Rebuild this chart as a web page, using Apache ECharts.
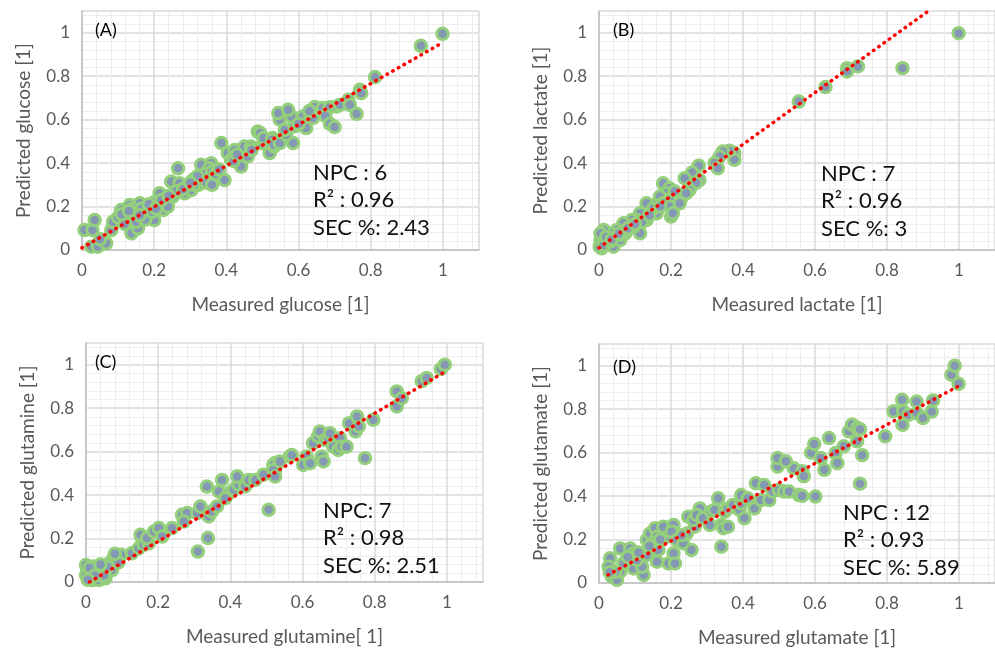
<!DOCTYPE html>
<html>
<head>
<meta charset="utf-8">
<script src="https://cdn.jsdelivr.net/npm/echarts@6/dist/echarts.min.js"></script>
<style>
  html, body { margin: 0; padding: 0; background: #fff; }
  #chart { width: 995px; height: 651px; }
</style>
</head>
<body>
<div id="chart"></div>
<script>
// (A) glucose: [measured, predicted]
let glucosePts = [
  [0.007, 0.092], [0.029, 0.092], [0.035, 0.138], [0.026, 0.015], [0.044, 0.015], [0.067, 0.031],
  [0.05, 0.05], [0.081, 0.092], [0.086, 0.13], [0.1, 0.15], [0.108, 0.184], [0.132, 0.207],
  [0.127, 0.15], [0.118, 0.12], [0.137, 0.077], [0.155, 0.1], [0.16, 0.215], [0.147, 0.169],
  [0.17, 0.169], [0.188, 0.184], [0.2, 0.138], [0.215, 0.261], [0.211, 0.215], [0.225, 0.184],
  [0.234, 0.23], [0.238, 0.2], [0.252, 0.246], [0.266, 0.376], [0.247, 0.315], [0.27, 0.307],
  [0.285, 0.261], [0.29, 0.292], [0.307, 0.322], [0.303, 0.276], [0.321, 0.299], [0.33, 0.392],
  [0.335, 0.33], [0.353, 0.338], [0.358, 0.399], [0.353, 0.376], [0.367, 0.322], [0.395, 0.322],
  [0.386, 0.492], [0.404, 0.446], [0.423, 0.46], [0.413, 0.415], [0.432, 0.43], [0.441, 0.384],
  [0.45, 0.476], [0.459, 0.43], [0.468, 0.476], [0.487, 0.545], [0.502, 0.49], [0.52, 0.446],
  [0.515, 0.499], [0.528, 0.515], [0.532, 0.476], [0.494, 0.538], [0.503, 0.515], [0.526, 0.507],
  [0.531, 0.484], [0.548, 0.492], [0.585, 0.492], [0.566, 0.53], [0.562, 0.553], [0.589, 0.569],
  [0.617, 0.569], [0.621, 0.561], [0.603, 0.6], [0.612, 0.615], [0.58, 0.615], [0.548, 0.6],
  [0.544, 0.63], [0.571, 0.645], [0.632, 0.622], [0.64, 0.607], [0.645, 0.658], [0.667, 0.653],
  [0.686, 0.657], [0.705, 0.66], [0.715, 0.668], [0.674, 0.617], [0.687, 0.581], [0.7, 0.566],
  [0.738, 0.691], [0.742, 0.668], [0.761, 0.627], [0.77, 0.737], [0.774, 0.722], [0.812, 0.796],
  [0.939, 0.94], [0.999, 0.995], [0.12, 0.17], [0.14, 0.19], [0.165, 0.19], [0.18, 0.16],
  [0.19, 0.2], [0.2, 0.22], [0.22, 0.23], [0.26, 0.27], [0.28, 0.28], [0.31, 0.3],
  [0.34, 0.35], [0.36, 0.36], [0.15, 0.13], [0.175, 0.14], [0.11, 0.165], [0.195, 0.175],
  [0.37, 0.35], [0.32, 0.34], [0.42, 0.41], [0.47, 0.46], [0.6, 0.58], [0.63, 0.64],
  [0.13, 0.18], [0.16, 0.16], [0.185, 0.21], [0.205, 0.19], [0.24, 0.25], [0.3, 0.31],
  [0.345, 0.31], [0.38, 0.37], [0.43, 0.44], [0.36, 0.3]
];
// (B) lactate
let lactatePts = [
  [0.999, 0.998], [0.843, 0.837], [0.719, 0.845], [0.689, 0.837], [0.689, 0.822], [0.629, 0.75],
  [0.555, 0.683], [0.376, 0.446], [0.376, 0.415], [0.362, 0.457], [0.344, 0.453], [0.335, 0.43],
  [0.321, 0.4], [0.33, 0.376], [0.277, 0.388], [0.259, 0.357], [0.238, 0.33], [0.256, 0.292],
  [0.279, 0.322], [0.27, 0.31], [0.251, 0.276], [0.228, 0.238], [0.2, 0.154], [0.178, 0.307],
  [0.196, 0.284], [0.187, 0.261], [0.205, 0.246], [0.169, 0.246], [0.178, 0.215], [0.196, 0.2],
  [0.155, 0.207], [0.141, 0.184], [0.132, 0.215], [0.123, 0.154], [0.114, 0.169], [0.105, 0.138],
  [0.091, 0.138], [0.114, 0.077], [0.086, 0.107], [0.068, 0.123], [0.073, 0.077], [0.05, 0.092],
  [0.045, 0.061], [0.031, 0.077], [0.013, 0.092], [0.004, 0.046], [0.022, 0.031], [0.007, 0.008],
  [0.04, 0.015], [0.002, 0.015], [0.059, 0.046], [0.013, 0.023], [0.031, 0.038], [0.077, 0.092],
  [0.095, 0.107], [0.132, 0.138], [0.16, 0.169], [0.224, 0.215], [0.242, 0.261], [0.205, 0.169],
  [0.004, 0.077], [0.15, 0.19], [0.17, 0.2], [0.21, 0.27], [0.12, 0.13], [0.06, 0.07],
  [0.02, 0.06], [0.035, 0.05], [0.055, 0.075], [0.08, 0.1], [0.1, 0.12], [0.14, 0.16]
];
// (C) glutamine
let glutaminePts = [
  [0.021, 0.071], [0.003, 0.055], [0.0, 0.03], [0.017, 0.009], [0.036, 0.009], [0.045, 0.047],
  [0.064, 0.086], [0.078, 0.117], [0.083, 0.101], [0.097, 0.125], [0.072, 0.055], [0.054, 0.017],
  [0.036, 0.055], [0.0, 0.078], [0.012, 0.017], [0.127, 0.132], [0.146, 0.155], [0.156, 0.194],
  [0.16, 0.171], [0.174, 0.178], [0.151, 0.217], [0.169, 0.202], [0.188, 0.232], [0.202, 0.248],
  [0.211, 0.209], [0.238, 0.248], [0.266, 0.309], [0.28, 0.317], [0.271, 0.278], [0.308, 0.317],
  [0.317, 0.348], [0.34, 0.302], [0.349, 0.325], [0.363, 0.348], [0.31, 0.14], [0.338, 0.202],
  [0.335, 0.439], [0.368, 0.417], [0.377, 0.47], [0.396, 0.409], [0.386, 0.386], [0.409, 0.425],
  [0.423, 0.448], [0.419, 0.486], [0.441, 0.44], [0.451, 0.47], [0.469, 0.47], [0.492, 0.494],
  [0.506, 0.332], [0.524, 0.517], [0.524, 0.548], [0.519, 0.539], [0.519, 0.516], [0.524, 0.485],
  [0.537, 0.555], [0.565, 0.578], [0.57, 0.585], [0.611, 0.578], [0.602, 0.539], [0.621, 0.547],
  [0.653, 0.578], [0.658, 0.555], [0.629, 0.639], [0.643, 0.67], [0.648, 0.693], [0.662, 0.654],
  [0.671, 0.662], [0.676, 0.685], [0.704, 0.662], [0.685, 0.623], [0.699, 0.608], [0.708, 0.623],
  [0.722, 0.623], [0.729, 0.731], [0.747, 0.693], [0.756, 0.716], [0.751, 0.762], [0.773, 0.57],
  [0.796, 0.747], [0.861, 0.877], [0.861, 0.808], [0.875, 0.846], [0.93, 0.924], [0.944, 0.939],
  [0.983, 0.98], [0.994, 1.0], [0.02, 0.04], [0.03, 0.06], [0.05, 0.03], [0.09, 0.09],
  [0.01, 0.065], [0.025, 0.03], [0.06, 0.07], [0.08, 0.13], [0.04, 0.08], [0.005, 0.01]
];
// (D) glutamate
let glutamatePts = [
  [0.031, 0.114], [0.027, 0.075], [0.036, 0.029], [0.05, 0.014], [0.059, 0.052], [0.045, 0.052],
  [0.068, 0.09], [0.059, 0.159], [0.087, 0.159], [0.096, 0.136], [0.096, 0.067], [0.124, 0.037],
  [0.12, 0.075], [0.105, 0.106], [0.133, 0.129], [0.133, 0.198], [0.142, 0.228], [0.156, 0.252],
  [0.161, 0.213], [0.151, 0.183], [0.165, 0.152], [0.161, 0.098], [0.188, 0.213], [0.179, 0.259],
  [0.193, 0.09], [0.207, 0.136], [0.211, 0.09], [0.207, 0.267], [0.202, 0.236], [0.216, 0.198],
  [0.234, 0.183], [0.244, 0.228], [0.248, 0.305], [0.257, 0.152], [0.266, 0.259], [0.262, 0.29],
  [0.28, 0.343], [0.271, 0.313], [0.289, 0.298], [0.308, 0.267], [0.312, 0.328], [0.321, 0.336],
  [0.331, 0.39], [0.34, 0.167], [0.34, 0.267], [0.345, 0.252], [0.358, 0.259], [0.349, 0.328],
  [0.358, 0.343], [0.372, 0.359], [0.39, 0.336], [0.395, 0.367], [0.404, 0.298], [0.395, 0.405],
  [0.413, 0.39], [0.432, 0.343], [0.436, 0.459], [0.45, 0.382], [0.459, 0.451], [0.473, 0.382],
  [0.482, 0.421], [0.496, 0.536], [0.496, 0.575], [0.5, 0.428], [0.514, 0.421], [0.528, 0.421],
  [0.541, 0.528], [0.555, 0.405], [0.564, 0.401], [0.601, 0.398], [0.519, 0.56], [0.565, 0.514],
  [0.569, 0.491], [0.589, 0.6], [0.598, 0.64], [0.616, 0.575], [0.626, 0.521], [0.639, 0.667],
  [0.657, 0.598], [0.662, 0.552], [0.68, 0.629], [0.694, 0.698], [0.703, 0.729], [0.717, 0.714],
  [0.725, 0.708], [0.717, 0.652], [0.731, 0.588], [0.725, 0.457], [0.795, 0.675], [0.818, 0.79],
  [0.843, 0.728], [0.845, 0.79], [0.842, 0.843], [0.859, 0.774], [0.883, 0.781], [0.882, 0.835],
  [0.9, 0.759], [0.924, 0.789], [0.928, 0.84], [0.999, 0.917], [0.979, 0.959], [0.988, 1.0],
  [0.08, 0.12], [0.11, 0.14], [0.14, 0.17], [0.17, 0.2], [0.23, 0.22], [0.03, 0.05]
];

// trend lines (start and end points)
let trendA = [[0.0, 0.01], [1.0, 0.955]];
let trendB = [[0.0, 0.01], [0.915, 1.1]];
let trendC = [[0.01, 0.0], [0.99, 0.963]];
let trendD = [[0.025, 0.037], [0.997, 0.905]];

let xNames = ['Measured glucose [1]', 'Measured lactate [1]', 'Measured glutamine[ 1]', 'Measured glutamate [1]'];
let yNames = ['Predicted glucose [1]', 'Predicted lactate [1]', 'Predicted glutamine [1]', 'Predicted glutamate [1]'];
let panelTags = ['(A)', '(B)', '(C)', '(D)'];
let statsText = [
  ['NPC : 6', 'R² : 0.96', 'SEC %: 2.43'],
  ['NPC : 7', 'R² : 0.96', 'SEC %: 3'],
  ['NPC: 7', 'R² : 0.98', 'SEC %: 2.51'],
  ['NPC : 12', 'R² : 0.93', 'SEC %: 5.89']
];

let allPts = [glucosePts, lactatePts, glutaminePts, glutamatePts];
let allTrends = [trendA, trendB, trendC, trendD];

const FONT = 'Lato';
const grids = [
  { left: 82, top: 11, width: 397, height: 239 },
  { left: 599, top: 11, width: 398, height: 239 },
  { left: 86, top: 343, width: 397, height: 239 },
  { left: 599, top: 344, width: 398, height: 239 }
];
const tagPos = [[95, 30], [613, 30], [95, 362], [613, 367]];
const statPos = [[313, 173], [821, 174], [323, 511], [843, 513]];

let axisBase = (i, name, gap) => ({
  gridIndex: i,
  type: 'value',
  min: 0,
  max: 1.1,
  interval: 0.2,
  name: name,
  nameLocation: 'middle',
  nameGap: gap,
  nameTextStyle: { color: '#595959', fontSize: 19, fontFamily: FONT },
  axisLine: { show: true, lineStyle: { color: '#bfbfbf', width: 1.5 } },
  axisTick: { show: false },
  axisLabel: { color: '#595959', fontSize: 17, fontFamily: FONT, margin: 12, showMaxLabel: false },
  splitLine: { show: true, lineStyle: { color: '#d9d9d9', width: 1.5 } },
  minorTick: { show: false, splitNumber: 5 },
  minorSplitLine: { show: true, lineStyle: { color: '#eeeeee', width: 1 } }
});

let xAxes = [], yAxes = [], series = [], graphics = [];
for (let i = 0; i < 4; i++) {
  xAxes.push(axisBase(i, xNames[i], 45));
  yAxes.push(axisBase(i, yNames[i], 49));
  series.push({
    type: 'scatter',
    xAxisIndex: i,
    yAxisIndex: i,
    data: allPts[i],
    symbolSize: 11.5,
    itemStyle: { color: '#8497b3', borderColor: '#94d07c', borderWidth: 3, opacity: 1 },
    z: 2
  });
  series.push({
    type: 'line',
    xAxisIndex: i,
    yAxisIndex: i,
    data: allTrends[i],
    symbol: 'none',
    silent: true,
    lineStyle: { color: '#ff0000', width: 3.5, type: [0.5, 6], cap: 'round' },
    z: 3
  });
  graphics.push({
    type: 'text', x: tagPos[i][0], y: tagPos[i][1], z: 10,
    style: { text: panelTags[i], fill: '#000', fontSize: 18, fontFamily: FONT, verticalAlign: 'middle' }
  });
  graphics.push({
    type: 'text', x: statPos[i][0], y: statPos[i][1] - 14, z: 10,
    style: { text: statsText[i].join('\n'), fill: '#111', fontSize: 22, fontFamily: FONT, lineHeight: 27.5, verticalAlign: 'top' }
  });
}

let chart = echarts.init(document.getElementById('chart'));
let option = {
  backgroundColor: '#fff',
  animation: false,
  grid: grids,
  xAxis: xAxes,
  yAxis: yAxes,
  series: series,
  graphic: graphics
};
option && chart.setOption(option);
window.addEventListener('resize', chart.resize);
</script>
</body>
</html>
